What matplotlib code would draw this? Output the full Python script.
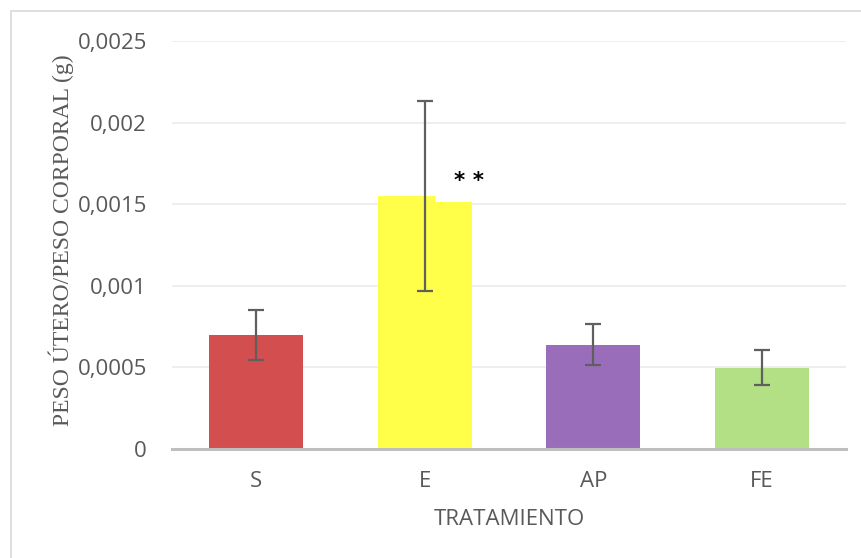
import matplotlib
matplotlib.use("Agg")
import matplotlib.pyplot as plt
from matplotlib.patches import Rectangle

# datos
tratamientos = ["S", "E", "AP", "FE"]
medias = [0.000698, 0.00155, 0.00064, 0.000498]
errores = [0.000155, 0.000584, 0.000123, 0.000107]
colores = ["#D34F4F", "#FFFF4A", "#9A6DBB", "#B3DF85"]
yticks = [0, 0.0005, 0.001, 0.0015, 0.002, 0.0025]
ytick_labels = ["0", "0,0005", "0,001", "0,0015", "0,002", "0,0025"]
# escalón del borde superior de la barra E (en la imagen original)
e_escalon = 0.001513
signif = "* *"
signif_y = 0.00164

gris = "#595959"
fig = plt.figure(figsize=(8.62, 5.58), dpi=100)
ax = fig.add_axes([0.1995, 0.1953, 0.7819, 0.7312])

x = list(range(len(tratamientos)))
ancho = 0.56
ax.bar(x, medias, width=ancho, color=colores, zorder=2)

# parte derecha de E algo más baja
ax.bar(1 + 0.059, medias[1] - e_escalon, width=ancho / 2 - 0.059, bottom=e_escalon,
       align="edge", color="white", zorder=2.5)

ax.errorbar(x, medias, yerr=errores, fmt="none", ecolor="#5f5f5f",
            elinewidth=1.6, capsize=6, capthick=1.6, zorder=3)

ax.text(1 + 0.26, signif_y, signif, ha="center", va="center",
        fontsize=15.5, fontweight="bold", color="black", family="DejaVu Sans")

ax.set_xlim(-0.5, 3.5)
ax.set_ylim(0, 0.0025)
ax.set_yticks(yticks)
ax.set_yticklabels(ytick_labels)
ax.set_xticks(x)
ax.set_xticklabels(tratamientos)

ax.grid(axis="y", color="#EBEBEB", linewidth=1.2, zorder=0)
ax.set_axisbelow(True)
for s in ["top", "right", "left"]:
    ax.spines[s].set_visible(False)
ax.spines["bottom"].set_color("#BFBFBF")
ax.spines["bottom"].set_linewidth(2.2)
ax.spines["bottom"].set_zorder(4)

ax.tick_params(axis="both", length=0, labelcolor=gris, labelsize=16)
ax.tick_params(axis="y", pad=18)
ax.tick_params(axis="x", pad=16)
for t in ax.get_xticklabels() + ax.get_yticklabels():
    t.set_family("Open Sans")

ax.set_xlabel("TRATAMIENTO", fontsize=16, color=gris, family="Open Sans", labelpad=12)
fig.text(61 / 862, 1 - 240 / 558, "PESO ÚTERO/PESO CORPORAL (g)", rotation=90,
         ha="center", va="center", fontsize=17, color=gris, family="Liberation Serif")

# borde del área del gráfico
fig.add_artist(Rectangle((11 / 862, -0.1), 1.2, 1 - 11 / 558 + 0.1,
                         transform=fig.transFigure, fill=False,
                         edgecolor="#D9D9D9", linewidth=1.2))

fig.savefig("out.png", dpi=100)
